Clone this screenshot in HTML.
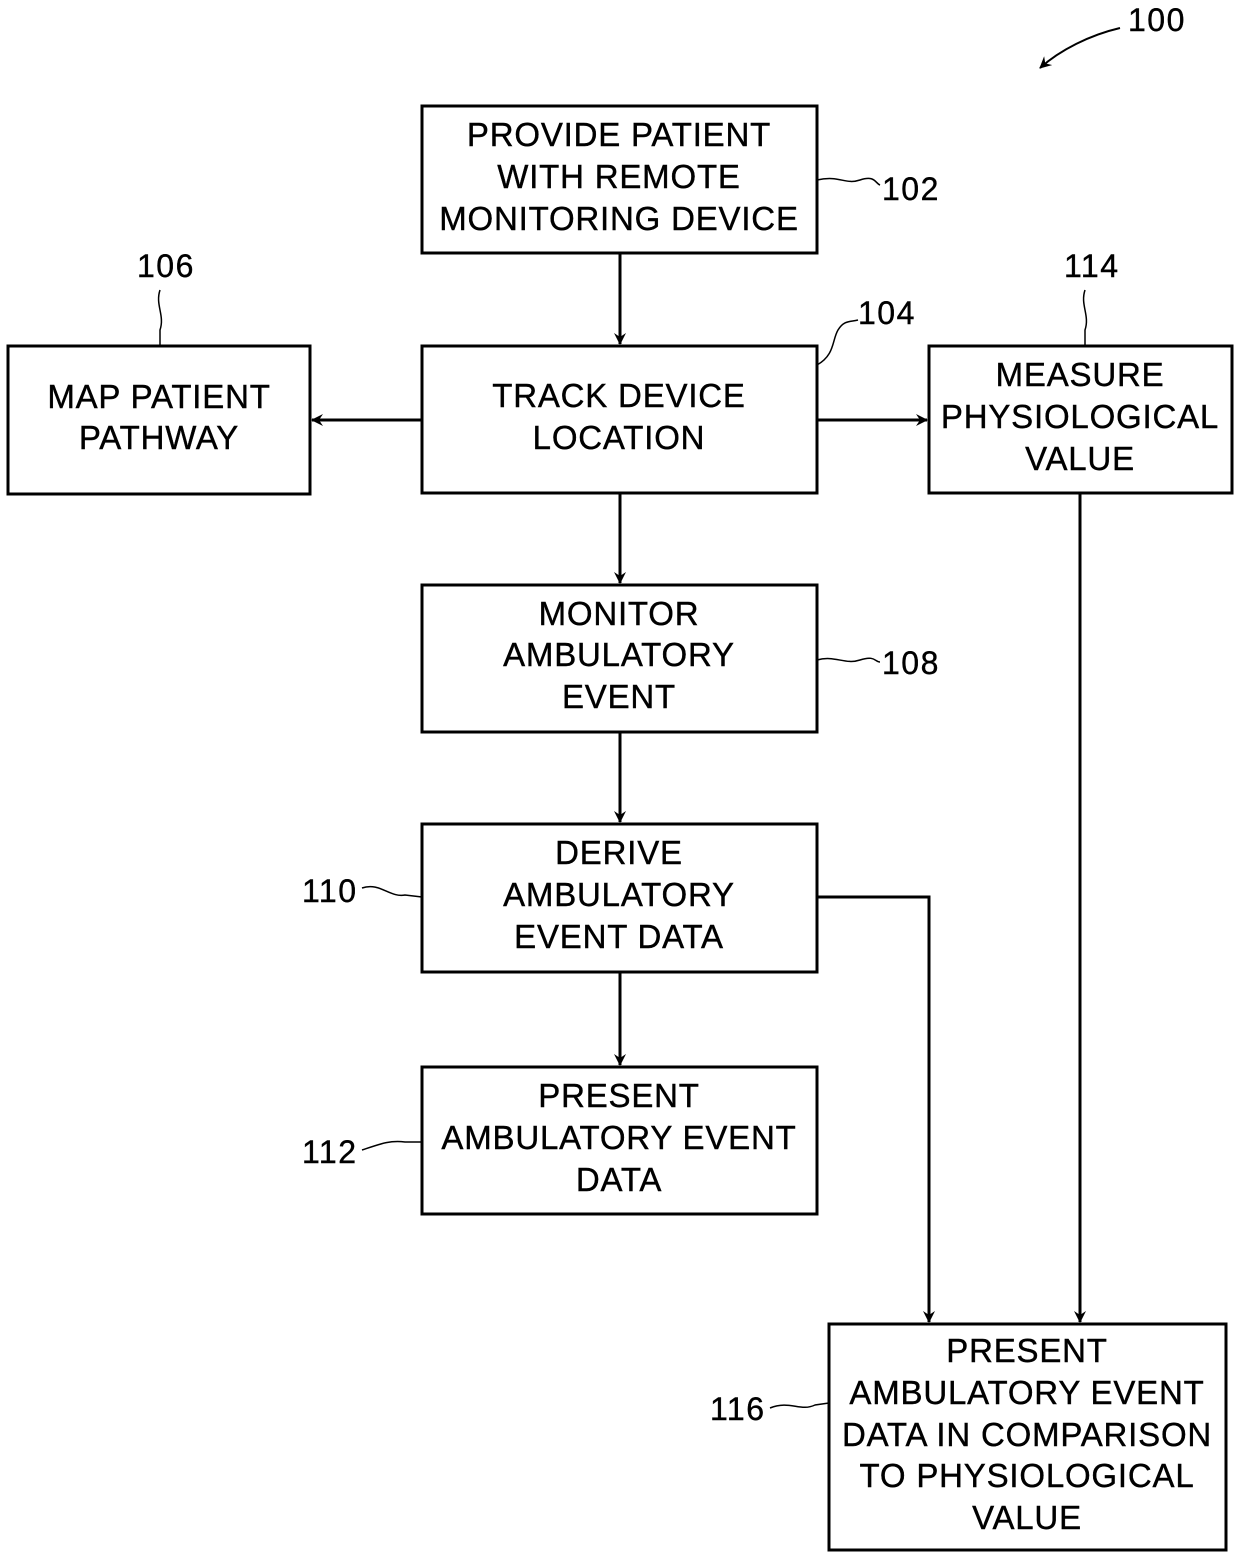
<!DOCTYPE html>
<html><head><style>
html,body{margin:0;padding:0;background:#fff;}
svg{display:block;}
text{font-family:"Liberation Sans",Arial,sans-serif;font-size:33px;letter-spacing:0.8px;fill:#000;stroke:#000;stroke-width:0.4px;text-anchor:middle;}
.n{text-anchor:start;font-size:32px;letter-spacing:1.5px;}
</style></head><body>
<svg width="1240" height="1558" viewBox="0 0 1240 1558">
<defs><marker id="a" markerWidth="12" markerHeight="12" refX="11" refY="6" orient="auto" markerUnits="userSpaceOnUse"><path d="M0,0 L12,6 L0,12 L4,6 Z" fill="#000"/></marker></defs>
<g fill="none" stroke="#000" stroke-width="3">
<rect x="422" y="106" width="395" height="147"/>
<rect x="422" y="346" width="395" height="147"/>
<rect x="8" y="346" width="302" height="148"/>
<rect x="929" y="346" width="303" height="147"/>
<rect x="422" y="585" width="395" height="147"/>
<rect x="422" y="824" width="395" height="148"/>
<rect x="422" y="1067" width="395" height="147"/>
<rect x="829" y="1324" width="397" height="226"/>
<line x1="620" y1="253" x2="620" y2="344" marker-end="url(#a)"/>
<line x1="422" y1="420" x2="312" y2="420" marker-end="url(#a)"/>
<line x1="817" y1="420" x2="927" y2="420" marker-end="url(#a)"/>
<line x1="620" y1="493" x2="620" y2="583" marker-end="url(#a)"/>
<line x1="620" y1="732" x2="620" y2="822" marker-end="url(#a)"/>
<line x1="620" y1="972" x2="620" y2="1065" marker-end="url(#a)"/>
<polyline points="817,897 929,897 929,1322" marker-end="url(#a)"/>
<line x1="1080" y1="493" x2="1080" y2="1322" marker-end="url(#a)"/>
</g>
<g fill="none" stroke="#000" stroke-width="1.5">
<path d="M817,180 C840,175 845,185 860,180 S875,183 880,185"/>
<path d="M817,365 C835,355 832,340 838,330 S850,322 858,320"/>
<path d="M160,290 C155,305 165,315 160,330 L160,346"/>
<path d="M1085,290 C1080,305 1090,315 1085,330 L1085,346"/>
<path d="M817,660 C835,655 845,665 860,660 S875,662 880,662"/>
<path d="M362,888 C380,882 390,898 405,895 L422,897"/>
<path d="M362,1150 C380,1144 390,1140 405,1142 L422,1142"/>
<path d="M770,1408 C790,1400 800,1412 815,1405 L829,1403"/>
<path d="M1120,28 C1090,35 1060,50 1040,68" marker-end="url(#a)" stroke-width="2"/>
</g>
<text x="619" y="146">PROVIDE PATIENT</text>
<text x="619" y="188">WITH REMOTE</text>
<text x="619" y="230">MONITORING DEVICE</text>
<text x="619" y="407">TRACK DEVICE</text>
<text x="619" y="449">LOCATION</text>
<text x="159" y="408">MAP PATIENT</text>
<text x="159" y="449">PATHWAY</text>
<text x="1080" y="386">MEASURE</text>
<text x="1080" y="428">PHYSIOLOGICAL</text>
<text x="1080" y="470">VALUE</text>
<text x="619" y="625">MONITOR</text>
<text x="619" y="666">AMBULATORY</text>
<text x="619" y="708">EVENT</text>
<text x="619" y="864">DERIVE</text>
<text x="619" y="906">AMBULATORY</text>
<text x="619" y="948">EVENT DATA</text>
<text x="619" y="1107">PRESENT</text>
<text x="619" y="1149">AMBULATORY EVENT</text>
<text x="619" y="1191">DATA</text>
<text x="1027" y="1362">PRESENT</text>
<text x="1027" y="1404">AMBULATORY EVENT</text>
<text x="1027" y="1446">DATA IN COMPARISON</text>
<text x="1027" y="1487">TO PHYSIOLOGICAL</text>
<text x="1027" y="1529">VALUE</text>
<text class="n" x="1128" y="31">100</text>
<text class="n" x="882" y="200">102</text>
<text class="n" x="858" y="324">104</text>
<text class="n" x="137" y="277">106</text>
<text class="n" x="1064" y="277">114</text>
<text class="n" x="882" y="674">108</text>
<text class="n" x="302" y="902">110</text>
<text class="n" x="302" y="1163">112</text>
<text class="n" x="710" y="1420">116</text>
</svg>
</body></html>
